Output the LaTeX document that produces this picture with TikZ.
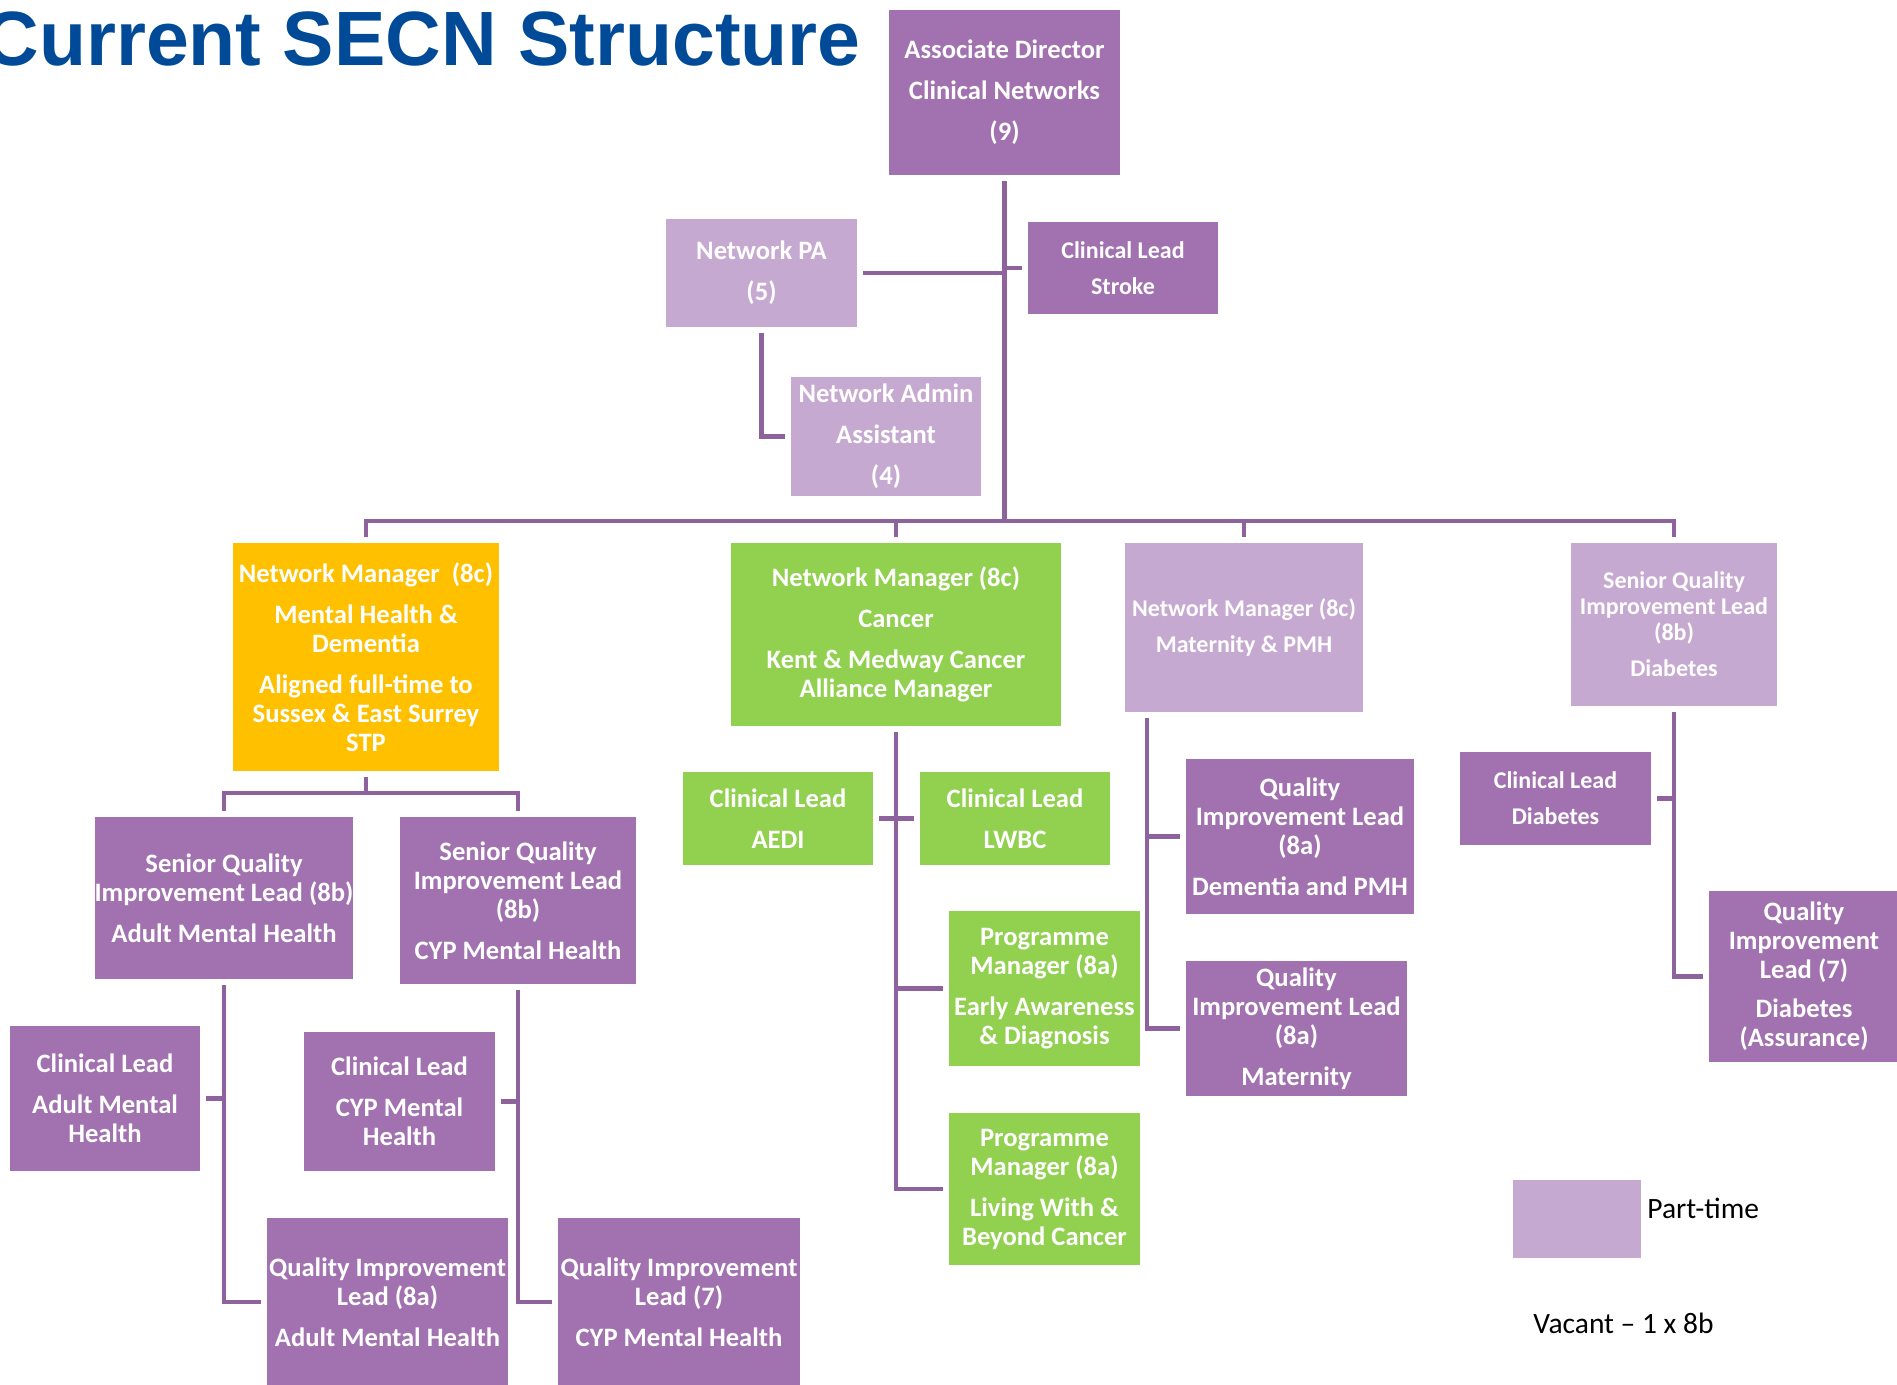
\documentclass[tikz,border=0pt]{standalone}
\usepackage{fontspec}
\setmainfont{Carlito}
\newfontfamily\arialfont{Liberation Sans}
\usepackage{tikz}
\usetikzlibrary{math}
\definecolor{fullc}{RGB}{161,114,175}
\definecolor{partc}{RGB}{198,169,208}
\definecolor{linec}{RGB}{141,98,157}
\definecolor{mhc}{RGB}{255,192,0}
\definecolor{cancerc}{RGB}{146,208,80}
\definecolor{titlec}{RGB}{0,74,152}
\tikzstyle{post} = [rectangle, text=white, align=center, inner sep=0pt, outer sep=3pt, font=\bfseries\fontsize{13.3}{14.5}\selectfont]
\tikzstyle{ftime} = [post, fill=fullc]
\tikzstyle{ptime} = [post, fill=partc]
\tikzstyle{mhpost} = [post, fill=mhc]
\tikzstyle{canpost} = [post, fill=cancerc]
\tikzstyle{smalltext} = [font=\bfseries\fontsize{12}{13}\selectfont]
\tikzstyle{link} = [draw=linec, line width=2.25pt]
\tikzset{boxsize/.style 2 args={minimum width=#1*0.5pt, minimum height=#2*0.5pt}}

\begin{document}
\begin{tikzpicture}[x=0.5pt, y=-0.5pt]

  \useasboundingbox (0,0) rectangle (1897,1385);
  \tikzmath{\busy = 521; \mhsplit = 793;}

  \node[anchor=base east, inner sep=0pt, text=titlec, font=\arialfont\bfseries\fontsize{38.5}{40}\selectfont] (title) at (861,66) {Current SECN Structure};

  % top of the tree
  \node[ftime, boxsize={231}{165}] (ad) at (1004.5,92.5) {Associate Director\\[6pt]Clinical Networks\\[6pt](9)};
  \node[ptime, boxsize={191}{108}] (pa) at (761.5,273) {Network PA\\[6pt](5)};
  \node[ftime, smalltext, boxsize={190}{92}] (stroke) at (1123,268) {Clinical Lead\\[5pt]Stroke};
  \node[ptime, boxsize={190}{119}] (admin) at (886,436.5) {Network Admin\\[6pt]Assistant\\[6pt](4)};

  % network managers
  \node[mhpost, boxsize={266}{228}] (mhnm) at (366,657) {Network Manager\ \ (8c)\\[6pt]Mental Health \&\\Dementia\\[6pt]Aligned full-time to\\Sussex \& East Surrey\\STP};
  \node[canpost, boxsize={330}{183}] (cannm) at (896,634.5) {Network Manager (8c)\\[6pt]Cancer\\[6pt]Kent \& Medway Cancer\\Alliance Manager};
  \node[ptime, smalltext, boxsize={238}{169}] (matnm) at (1244,627.5) {Network Manager (8c)\\[5pt]Maternity \& PMH};
  \node[ptime, smalltext, boxsize={206}{163}] (sqdia) at (1674,624.5) {Senior Quality\\Improvement Lead\\(8b)\\[5pt]Diabetes};

  % mental health
  \node[ftime, boxsize={258}{162}] (sqadult) at (224,898) {Senior Quality\\Improvement Lead (8b)\\[6pt]Adult Mental Health};
  \node[ftime, boxsize={236}{167}] (sqcyp) at (518,900.5) {Senior Quality\\Improvement Lead\\(8b)\\[6pt]CYP Mental Health};
  \node[ftime, boxsize={190}{145}] (cladult) at (105,1098.5) {Clinical Lead\\[6pt]Adult Mental\\Health};
  \node[ftime, boxsize={191}{139}] (clcyp) at (399.5,1101.5) {Clinical Lead\\[6pt]CYP Mental\\Health};
  \node[ftime, boxsize={241}{168}] (qiladult) at (387.5,1302) {Quality Improvement\\Lead (8a)\\[6pt]Adult Mental Health};
  \node[ftime, boxsize={242}{168}] (qilcyp) at (679,1302) {Quality Improvement\\Lead (7)\\[6pt]CYP Mental Health};

  % cancer
  \node[canpost, boxsize={190}{93}] (claedi) at (778,818.5) {Clinical Lead\\[6pt]AEDI};
  \node[canpost, boxsize={190}{93}] (cllwbc) at (1015,818.5) {Clinical Lead\\[6pt]LWBC};
  \node[canpost, boxsize={191}{155}] (pmead) at (1044.5,988.5) {Programme\\Manager (8a)\\[6pt]Early Awareness\\\& Diagnosis};
  \node[canpost, boxsize={191}{152}] (pmlwbc) at (1044.5,1189) {Programme\\Manager (8a)\\[6pt]Living With \&\\Beyond Cancer};

  % maternity and diabetes
  \node[ftime, boxsize={228}{155}] (qildem) at (1300,836.5) {Quality\\Improvement Lead\\(8a)\\[6pt]Dementia and PMH};
  \node[ftime, boxsize={221}{135}] (qilmat) at (1296.5,1028.5) {Quality\\Improvement Lead\\(8a)\\[6pt]Maternity};
  \node[ftime, smalltext, boxsize={191}{93}] (cldia) at (1555.5,798.5) {Clinical Lead\\[5pt]Diabetes};
  \node[ftime, boxsize={190}{171}] (qildia) at (1804,976.5) {Quality\\Improvement\\Lead (7)\\[5pt]Diabetes\\(Assurance)};

  % legend
  \node[fill=partc, boxsize={128}{78}, inner sep=0pt] (key) at (1577,1219) {};
  \node[anchor=base west, inner sep=0pt, font=\fontsize{14.75}{17}\selectfont] (keytext) at (1647,1218) {Part-time};
  \node[anchor=base west, inner sep=0pt, font=\fontsize{14.75}{17}\selectfont] (vacant) at (1533,1333) {Vacant -- 1 x 8b};

  % lines
  \draw[link] (ad.south) -- (ad.south |- 0,\busy) coordinate (bus);
  \draw[link] (pa.east) -- (pa.east -| ad.south);
  \draw[link] (stroke.west) -- (stroke.west -| ad.south);
  \draw[link] (pa.south) |- (admin.west);
  \draw[link] (mhnm.north) -- (mhnm.north |- bus) -| (sqdia.north);
  \draw[link] (cannm.north) -- (cannm.north |- bus);
  \draw[link] (matnm.north) -- (matnm.north |- bus);

  \draw[link] (mhnm.south) -- (mhnm.south |- 0,\mhsplit) coordinate (mhfork);
  \draw[link] (sqadult.north) |- (mhfork) -| (sqcyp.north);
  \draw[link] (sqadult.south) |- (qiladult.west);
  \draw[link] (cladult.east) -- (cladult.east -| sqadult.south);
  \draw[link] (sqcyp.south) |- (qilcyp.west);
  \draw[link] (clcyp.east) -- (clcyp.east -| sqcyp.south);

  \draw[link] (cannm.south) |- (pmlwbc.west);
  \draw[link] (claedi.east) -- (cllwbc.west);
  \draw[link] (pmead.west) -- (pmead.west -| cannm.south);

  \draw[link] (matnm.south west) ++(28,0) coordinate (matdrop) |- (qilmat.west);
  \draw[link] (qildem.west) -- (qildem.west -| matdrop);

  \draw[link] (sqdia.south) |- (qildia.west);
  \draw[link] (cldia.east) -- (cldia.east -| sqdia.south);

\end{tikzpicture}
\end{document}
